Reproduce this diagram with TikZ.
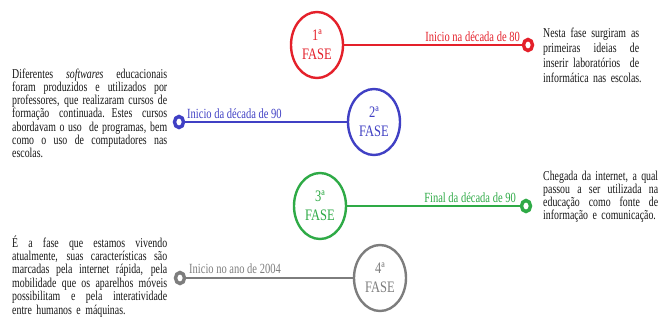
\documentclass[tikz,border=0pt]{standalone}
\usepackage{fontspec}
\setmainfont{Liberation Serif}[FakeStretch=0.73]
\newfontfamily\lblfont{Liberation Serif}[FakeStretch=0.75]
\newfontfamily\fasefont{Liberation Serif}[FakeStretch=0.78]
\usetikzlibrary{shapes.geometric}
\definecolor{fred}{RGB}{228,32,42}
\definecolor{fblue}{RGB}{64,64,196}
\definecolor{fgreen}{RGB}{46,170,70}
\definecolor{fgray}{RGB}{125,125,125}
\definecolor{ftext}{RGB}{22,22,22}
\newcommand{\jline}[2]{\makebox[#1][s]{\spaceskip=\fontdimen2\font plus 1fil\relax #2}}
\begin{document}
\begin{tikzpicture}[x=1pt,y=-1pt,
 fase/.style={ellipse, draw=#1, line width=2.4pt, fill=white, minimum width=52pt, minimum height=66pt, inner sep=0pt, text=#1, align=center, font=\fasefont\fontsize{16}{19.5}\selectfont},
 ring/.style={ellipse, draw=#1, line width=3.4pt, fill=white, minimum width=9pt, minimum height=11pt, inner sep=0pt},
 conn/.style={draw=#1, line width=2pt},
 lbl/.style={text=#1, inner sep=0pt, font=\lblfont\fontsize{14}{15}\selectfont},
 para/.style={text=ftext, inner sep=0pt, align=left, text width=#1}
]
\useasboundingbox (0,0) rectangle (660,327);
% phase circles
\node[fase=fred]   (c1) at (317,45)  {1ª\\FASE};
\node[fase=fblue]  (c2) at (374,122) {2ª\\FASE};
\node[fase=fgreen] (c3) at (320,206) {3ª\\FASE};
\node[fase=fgray]  (c4) at (380,278) {4ª\\FASE};
% rings
\node[ring=fred]   (r1) at (528,45)  {};
\node[ring=fblue]  (r2) at (179,122) {};
\node[ring=fgreen] (r3) at (526,206) {};
\node[ring=fgray]  (r4) at (180,278) {};
% connectors
\draw[conn=fred]   (c1) -- (r1);
\draw[conn=fblue]  (r2) -- (c2);
\draw[conn=fgreen] (c3) -- (r3);
\draw[conn=fgray]  (r4) -- (c4);
% labels
\node[lbl=fred,   anchor=base east] (l1) at (520,41)  {Inicio na década de 80};
\node[lbl=fblue,  anchor=base west] (l2) at (187,118) {Inicio da década de 90};
\node[lbl=fgreen, anchor=base east] (l3) at (516,202) {Final da década de 90};
\node[lbl=fgray,  anchor=base west] (l4) at (189,273) {Inicio no ano de 2004};
% paragraphs
\node[para=155pt, anchor=base west, font=\fontsize{13.5}{13.3}\selectfont] (p1) at (12,78) {%
\jline{155pt}{Diferentes \textit{softwares} educacionais}\\
\jline{155pt}{foram produzidos e utilizados por}\\
\jline{155pt}{professores, que realizaram cursos de}\\
\jline{155pt}{formação continuada. Estes cursos}\\
\jline{155pt}{abordavam o uso \ de programas, bem}\\
\jline{155pt}{como o uso de computadores nas}\\
\mbox{escolas.}};
\node[para=96pt, anchor=base west, font=\fontsize{13.5}{15}\selectfont] (p2) at (543,37) {%
\jline{96pt}{Nesta fase surgiram as}\\
\jline{96pt}{primeiras ideias de}\\
\jline{96pt}{inserir laboratórios \ de}\\
\mbox{informática nas escolas.}};
\node[para=115pt, anchor=base west, font=\fontsize{13.5}{13}\selectfont] (p3) at (543,180) {%
\jline{115pt}{Chegada da internet, a qual}\\
\jline{115pt}{passou a ser utilizada na}\\
\jline{115pt}{educação como fonte de}\\
\mbox{informação e comunicação.}};
\node[para=155pt, anchor=base west, font=\fontsize{13.5}{13.4}\selectfont] (p4) at (12,247) {%
\jline{155pt}{É a fase que estamos vivendo}\\
\jline{155pt}{atualmente, suas características são}\\
\jline{155pt}{marcadas pela internet rápida, pela}\\
\jline{155pt}{mobilidade que os aparelhos móveis}\\
\jline{155pt}{possibilitam e pela interatividade}\\
\mbox{entre humanos e máquinas.}};
\end{tikzpicture}
\end{document}
